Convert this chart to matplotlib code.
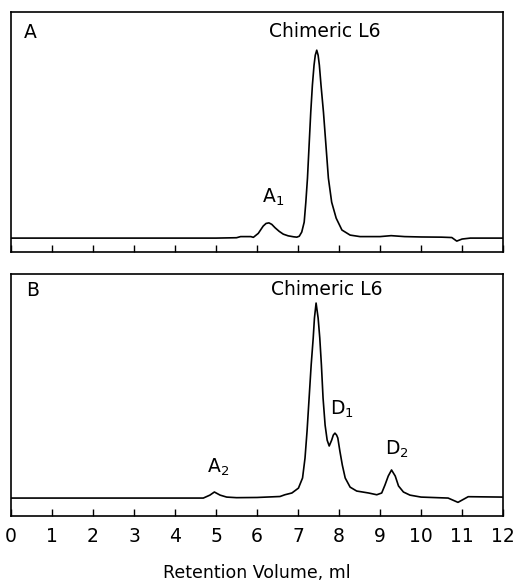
import matplotlib
matplotlib.use("Agg")
import matplotlib.pyplot as plt

plt.rcParams['font.family'] = ['DejaVu Sans']
plt.rcParams['mathtext.fontset'] = 'dejavusans'

# ---------------- data (relative absorbance, main peak = 100) ----------------
# Panel A
vol_a = [0.0, 1.0, 2.0, 3.0, 4.0, 5.0, 5.5, 5.6, 5.85, 5.91, 6.03, 6.15, 6.22, 6.29,
         6.36, 6.44, 6.54, 6.64, 6.76, 6.89, 6.97, 7.03, 7.09, 7.15, 7.19, 7.23,
         7.27, 7.31, 7.35, 7.39, 7.42, 7.456, 7.49, 7.52, 7.56, 7.62, 7.68, 7.74,
         7.82, 7.93, 8.07, 8.27, 8.51, 9.0, 9.27, 9.6, 10.0, 10.5, 10.75, 10.87,
         11.0, 11.2, 12.0]
abs_a = [0.0, 0.0, 0.0, 0.0, 0.0, 0.0, 0.2, 0.8, 0.8, 0.4, 2.5, 6.4, 7.8, 8.1,
         7.3, 5.5, 3.6, 2.1, 1.2, 0.7, 0.5, 1.0, 3.2, 8.5, 19.1, 31.9,
         49.5, 67.0, 81.4, 92.0, 97.3, 100.0, 97.3, 92.0, 81.4, 67.0, 49.5, 31.9,
         19.1, 10.6, 4.3, 1.6, 0.8, 0.8, 1.3, 0.8, 0.6, 0.5, 0.3, -1.6,
         -0.5, 0.0, 0.0]

# Panel B
vol_b = [0.0, 1.0, 2.0, 3.0, 4.0, 4.5, 4.69, 4.85, 4.96, 5.1, 5.26, 5.5, 6.0,
         6.56, 6.68, 6.85, 7.01, 7.11, 7.17, 7.22, 7.27, 7.32, 7.37, 7.40, 7.44,
         7.49, 7.53, 7.57, 7.61, 7.66, 7.71, 7.76, 7.82, 7.86, 7.90, 7.94, 7.97,
         8.02, 8.08, 8.15, 8.27, 8.43, 8.72, 8.92, 9.04, 9.12, 9.20, 9.28, 9.37,
         9.45, 9.57, 9.73, 10.0, 10.66, 10.9, 11.15, 12.0]
abs_b = [0.0, 0.0, 0.0, 0.0, 0.0, 0.0, 0.0, 1.5, 3.1, 1.5, 0.5, 0.2, 0.3,
         0.8, 1.7, 2.6, 5.1, 10.3, 20.5, 34.4, 51.3, 68.2, 82.1, 92.3, 100.0,
         92.3, 82.1, 68.2, 51.3, 37.4, 29.7, 26.7, 29.7, 32.3, 33.3, 32.3, 30.8,
         24.1, 16.9, 10.3, 5.6, 3.6, 2.6, 1.7, 2.6, 6.7, 11.3, 14.4, 11.3,
         6.2, 3.1, 1.5, 0.5, 0.0, -2.2, 0.7, 0.5]

xticks = list(range(0, 13))
xtick_labels = [str(t) for t in xticks]

# ---------------- figure ----------------
fig = plt.figure(figsize=(5.18, 5.82), dpi=100)
ax_a = fig.add_axes([0.0212, 0.567, 0.950, 0.412])
ax_b = fig.add_axes([0.0212, 0.1134, 0.950, 0.4158])

for ax in (ax_a, ax_b):
    ax.set_xlim(0, 12)
    ax.set_xticks(xticks)
    ax.set_yticks([])
    ax.tick_params(axis='x', direction='in', length=5, width=1.0, top=False,
                   pad=8, labelsize=13.5)
    for s in ax.spines.values():
        s.set_linewidth(1.2)

ax_a.plot(vol_a, abs_a, color='black', lw=1.2)
ax_a.set_ylim(-7.4, 120.2)
ax_a.set_xticklabels([])

ax_b.plot(vol_b, abs_b, color='black', lw=1.2)
ax_b.set_ylim(-9.2, 114.9)
ax_b.set_xticklabels(xtick_labels)
ax_b.set_xlabel('Retention Volume, ml', fontsize=12.5, labelpad=13)

fs = 13.5
ax_a.text(0.039, 0.917, 'A', transform=ax_a.transAxes, ha='center', va='center', fontsize=fs)
ax_a.text(0.638, 0.919, 'Chimeric L6', transform=ax_a.transAxes, ha='center', va='center', fontsize=fs)
ax_a.text(6.39, 18.6, r'A$_1$', ha='center', va='baseline', fontsize=fs)

ax_b.text(0.043, 0.930, 'B', transform=ax_b.transAxes, ha='center', va='center', fontsize=fs)
ax_b.text(0.641, 0.936, 'Chimeric L6', transform=ax_b.transAxes, ha='center', va='center', fontsize=fs)
ax_b.text(5.06, 12.8, r'A$_2$', ha='center', va='baseline', fontsize=fs)
ax_b.text(8.06, 42.6, r'D$_1$', ha='center', va='baseline', fontsize=fs)
ax_b.text(9.40, 22.0, r'D$_2$', ha='center', va='baseline', fontsize=fs)

fig.savefig('out.png', dpi=100)
